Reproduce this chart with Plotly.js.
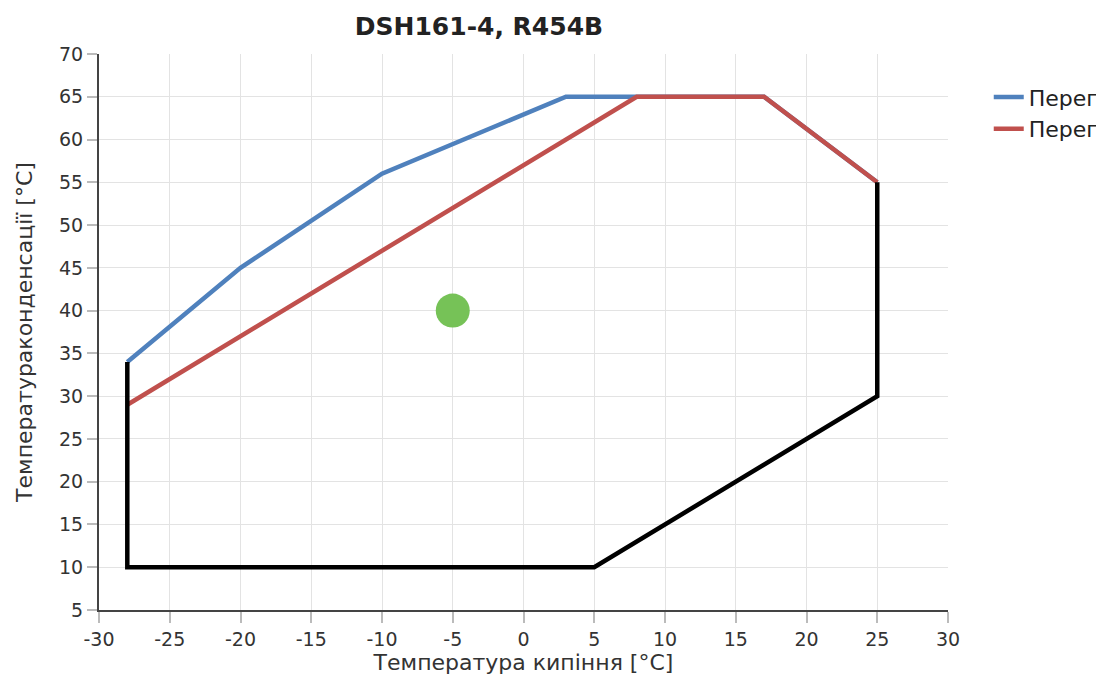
<!DOCTYPE html>
<html>
<head>
<meta charset="utf-8">
<script src="https://cdn.plot.ly/plotly-3.0.1.min.js"></script>
<style>html,body{margin:0;padding:0;background:#fff;}#chart{width:1096px;height:680px;}</style>
</head>
<body>
<div id="chart"></div>
<script>
const chartTitle = "DSH161-4, R454B";
const xTitle = "Температура кипіння [°C]";
const yTitle = "Температураконденсації [°C]";

const xTickVals = [-30, -25, -20, -15, -10, -5, 0, 5, 10, 15, 20, 25, 30];
const yTickVals = [5, 10, 15, 20, 25, 30, 35, 40, 45, 50, 55, 60, 65, 70];

const blueName = "Перегрів 10K";
const blueX = [-28, -20, -10, 3, 8, 17, 25];
const blueY = [34, 45, 56, 65, 65, 65, 55];

const redName = "Перегрів 20K";
const redX = [-28, 8, 17, 25];
const redY = [29, 65, 65, 55];

const envX = [-28, -28, 5, 25, 25];
const envY = [34, 10, 10, 30, 55];

const pointX = [-5];
const pointY = [40];

const traces = [
  {x: blueX, y: blueY, mode: "lines", name: blueName, legendgroup: "a", line: {color: "#4F81BD", width: 4.5}},
  {x: redX, y: redY, mode: "lines", name: redName, legendgroup: "b", line: {color: "#C0504D", width: 4.5}},
  {x: envX, y: envY, mode: "lines", showlegend: false, line: {color: "#000000", width: 4.5}},
  {x: pointX, y: pointY, mode: "markers", showlegend: false, marker: {color: "#76C257", size: 34}}
];

const fontFam = "DejaVu Sans, Verdana, sans-serif";
const layout = {
  width: 1096, height: 680,
  margin: {l: 99, r: 148, t: 54, b: 70, autoexpand: false},
  paper_bgcolor: "#fff", plot_bgcolor: "#fff",
  font: {family: fontFam, color: "#333", size: 19},
  title: {text: "<b>" + chartTitle + "</b>", x: 0.437, xanchor: "center", y: 0.962, yanchor: "middle", font: {size: 25, color: "#222", family: fontFam}},
  showlegend: true,
  legend: {x: 1.048, y: 0.96, xanchor: "left", yanchor: "top", font: {size: 22, color: "#222"}, tracegroupgap: 0, itemwidth: 30, bgcolor: "rgba(0,0,0,0)"},
  xaxis: {
    range: [-30, 30], tickmode: "array", tickvals: xTickVals, ticktext: xTickVals.map(String),
    showgrid: true, gridcolor: "#e3e3e3", gridwidth: 1,
    zeroline: false,
    showline: true, linecolor: "#444", linewidth: 2,
    ticks: "outside", ticklen: 11, tickcolor: "#bbb", tickwidth: 2,
    tickfont: {size: 19, color: "#333"},
    title: {text: xTitle, font: {size: 22, color: "#333"}, standoff: 4}
  },
  yaxis: {
    range: [5, 70], tickmode: "array", tickvals: yTickVals, ticktext: yTickVals.map(String),
    showgrid: true, gridcolor: "#e3e3e3", gridwidth: 1,
    zeroline: false,
    showline: true, linecolor: "#444", linewidth: 2,
    ticks: "outside", ticklen: 10, tickcolor: "#bbb", tickwidth: 2,
    tickfont: {size: 19, color: "#333"},
    title: {text: yTitle, font: {size: 22, color: "#333"}, standoff: 20}
  }
};

Plotly.newPlot("chart", traces, layout, {displayModeBar: false, staticPlot: true});
</script>
</body>
</html>
